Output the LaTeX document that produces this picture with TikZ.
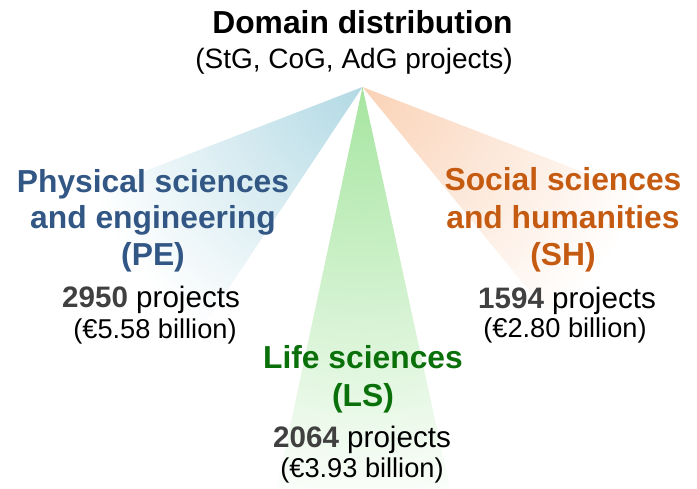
\documentclass[tikz,border=0pt]{standalone}
\usepackage{fontspec}
\setmainfont{Liberation Sans}
\definecolor{peText}{HTML}{325785}
\definecolor{shText}{HTML}{C55A11}
\definecolor{lsText}{HTML}{0A700A}
\definecolor{numText}{HTML}{404040}
\definecolor{peFan}{HTML}{B2D9E4}
\definecolor{lsFan}{HTML}{A6E5A0}
\definecolor{shFan}{HTML}{FAD2B6}
\begin{document}
\begin{tikzpicture}[x=1pt,y=-1pt,
  every node/.style={inner sep=0pt,outer sep=0pt},
  titlefont/.style={font=\fontsize{31.8}{38}\selectfont\bfseries},
  subfont/.style={font=\fontsize{28}{34}\selectfont},
  catfont/.style={font=\fontsize{31.8}{38}\selectfont\bfseries},
  countfont/.style={font=\fontsize{29.6}{35}\selectfont},
  billfont/.style={font=\fontsize{27.2}{32}\selectfont},
  lineat/.style={anchor=base}]
\useasboundingbox (0,0) rectangle (697,488);
\coordinate (apex) at (362.5,87);
% fans
\coordinate (pe1) at (0,227);
\coordinate (pe2) at (141,420);
\coordinate (ls1) at (268,530);
\coordinate (ls2) at (459,530);
\coordinate (sh1) at (697,216);
\coordinate (sh2) at (635,420);
\begin{scope}
  \clip (apex) -- (pe1) -- (pe2) -- cycle;
  \shade[inner color=peFan, outer color=white] (apex) circle[radius=290pt];
\end{scope}
\begin{scope}
  \clip (apex) -- (ls1) -- (ls2) -- cycle;
  \shade[inner color=lsFan, outer color=white] (apex) circle[radius=430pt];
\end{scope}
\begin{scope}
  \clip (apex) -- (sh1) -- (sh2) -- cycle;
  \shade[inner color=shFan, outer color=white] (apex) circle[radius=300pt];
\end{scope}
% title
\node[titlefont,lineat] (title) at (362.5,33) {Domain distribution};
\node[subfont,lineat] (subtitle) at (354,68) {(StG, CoG, AdG projects)};
% PE
\node[catfont,lineat,text=peText] (pe1t) at (153,192) {Physical sciences};
\node[catfont,lineat,text=peText] (pe2t) at (153,228.5) {and engineering};
\node[catfont,lineat,text=peText] (pe3t) at (153,265) {(PE)};
\node[countfont,lineat] (pecount) at (151,307) {\textbf{\textcolor{numText}{2950}} projects};
\node[billfont,lineat] (pebill) at (155,338) {(€5.58 billion)};
% SH
\node[catfont,lineat,text=shText] (sh1t) at (563,190) {Social sciences};
\node[catfont,lineat,text=shText] (sh2t) at (563,228) {and humanities};
\node[catfont,lineat,text=shText] (sh3t) at (563,265) {(SH)};
\node[countfont,lineat] (shcount) at (567,308) {\textbf{\textcolor{numText}{1594}} projects};
\node[billfont,lineat] (shbill) at (565,337) {(€2.80 billion)};
% LS
\node[catfont,lineat,text=lsText] (ls1t) at (363,368) {Life sciences};
\node[catfont,lineat,text=lsText] (ls2t) at (363,406) {(LS)};
\node[countfont,lineat] (lscount) at (362,447) {\textbf{\textcolor{numText}{2064}} projects};
\node[billfont,lineat] (lsbill) at (362,477) {(€3.93 billion)};
\end{tikzpicture}
\end{document}
